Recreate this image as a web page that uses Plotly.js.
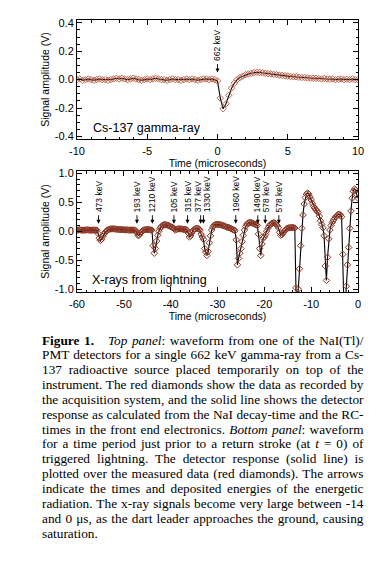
<!DOCTYPE html>
<html>
<head>
<meta charset="utf-8">
<script src="https://cdn.plot.ly/plotly-3.0.1.min.js"></script>
<style>html,body{margin:0;padding:0;background:#fff;}#chart{width:384px;height:576px;}</style>
</head>
<body>
<div id="chart"></div>
<script>
// ---------- DATA ----------
// Top panel: Cs-137 gamma-ray, sampled every 0.2 µs from -10 µs
var gammaStart = -10, gammaStep = 0.2;
var gammaSignal = [
  0.00, 0.005, -0.005, 0.00, 0.005, 0.00, -0.005, 0.00, 0.005, 0.00,
  0.00, -0.005, 0.00, 0.005, 0.01, 0.005, 0.01, 0.005, 0.00, 0.005,
  0.01, 0.005, 0.00, -0.005, 0.00, 0.005, 0.00, 0.005, 0.01, 0.005,
  0.00, 0.00, -0.005, 0.00, 0.005, 0.00, 0.00, -0.005, 0.00, 0.005,
  0.00, 0.005, 0.00, -0.005, 0.00, 0.005, 0.005, 0.00, 0.005, 0.00,
  -0.01,
  -0.13, -0.205, -0.17, -0.11, -0.06, -0.025, 0.00, 0.015, 0.025, 0.035,
  0.04, 0.045, 0.05, 0.052, 0.05, 0.048, 0.045, 0.042, 0.04, 0.037,
  0.035, 0.032, 0.03, 0.027, 0.025, 0.022, 0.02, 0.02, 0.017, 0.015,
  0.015, 0.012, 0.01, 0.01, 0.01, 0.008, 0.005, 0.008, 0.005, 0.003,
  0.005, 0.00, 0.003, 0.005, 0.00, 0.003, 0.00, 0.005, 0.00, 0.00
];

// Bottom panel: X-rays from lightning, sampled every 0.25 µs from -60 µs
var xrayStart = -60, xrayStep = 0.25;
var xraySignal = [
  0.02, 0.02, 0.025, 0.02, 0.02, 0.015, 0.02, 0.02,
  0.02, 0.025, 0.02, 0.02, 0.015, 0.02, 0.02, 0.02,
  0.02, 0.015, -0.04, -0.12, -0.16, -0.14, -0.09, -0.05,
  -0.02, 0.00, 0.02, 0.03, 0.035, 0.04, 0.04, 0.04,
  0.04, 0.035, 0.035, 0.03, 0.03, 0.03, 0.025, 0.025,
  0.025, 0.025, 0.02, 0.025, 0.02, 0.02, 0.02, 0.02,
  0.02, 0.02, 0.015, -0.02, -0.07, -0.07, -0.04, -0.01,
  0.01, 0.02, 0.025, 0.03, 0.03, 0.025, 0.025, 0.02,
  0.02, -0.25, -0.38, -0.3, -0.17, -0.07, 0.00, 0.05,
  0.08, 0.10, 0.11, 0.115, 0.11, 0.105, 0.10, 0.09,
  0.08, 0.07, 0.06, 0.04, 0.02, 0.03, 0.04, 0.04,
  0.04, 0.04, 0.035, 0.03, 0.03, 0.03, 0.02, -0.03,
  -0.10, -0.08, -0.03, 0.01, 0.03, 0.04, 0.05, 0.05,
  0.04, 0.02, -0.05, -0.10, -0.14, -0.30, -0.36, -0.42,
  -0.35, -0.20, -0.08, 0.02, 0.07, 0.10, 0.115, 0.12,
  0.12, 0.12, 0.115, 0.11, 0.10, 0.095, 0.09, 0.08,
  0.07, 0.065, 0.06, 0.05, 0.04, 0.03, 0.02, 0.01,
  -0.15, -0.58, -0.47, -0.38, -0.30, -0.18, -0.07, 0.02,
  0.08, 0.12, 0.14, 0.15, 0.15, 0.145, 0.14, 0.13,
  0.12, 0.11, 0.10, -0.05, -0.30, -0.42, -0.22, -0.12,
  -0.10, -0.06, 0.00, 0.05, 0.09, 0.11, 0.13, 0.14,
  0.15, 0.14, 0.12, 0.10, 0.06, -0.02, -0.07, -0.06,
  -0.03, 0.00, 0.02, 0.04, 0.05, 0.06, 0.06, 0.065,
  0.065, 0.06, 0.055, -0.98, -1.30, -1.00, -0.65, -0.25,
  0.05, 0.28, 0.47, 0.58, 0.64, 0.66, 0.64, 0.59,
  0.54, 0.48, 0.43, 0.40, 0.37, 0.35, 0.32, 0.26,
  0.18, 0.12, 0.06, -0.08, -0.60, -0.85, -0.45, -0.13,
  0.02, 0.10, 0.15, 0.19, 0.22, 0.25, 0.27, 0.29,
  0.29, 0.28, 0.25, -0.40, -1.30, -1.30, -0.95, -0.58,
  -0.28, 0.05, 0.35, 0.57, 0.69, 0.73, 0.71, 0.63,
  0.57
];

// Arrow markers (time in µs, deposited energy label)
var gammaArrowTimes = [0];
var gammaArrowLabels = ['662 keV'];
var xrayArrowTimes = [-55.4, -47.2, -43.9, -39.3, -36.4, -33.6, -33.0, -26.1, -21.4, -19.8, -16.9];
var xrayArrowLabels = ['473 keV', '193 keV', '1210 keV', '105 keV', '315 keV', '377 keV', '1330 keV', '1960 keV', '1490 keV', '578 keV', '578 keV'];

// Tick labels
var gammaXTicks = [-10, -5, 0, 5, 10];
var gammaXLabels = ['-10', '-5', '0', '5', '10'];
var gammaYTicks = [-0.4, -0.2, 0, 0.2, 0.4];
var gammaYLabels = ['-0.4', '-0.2', '0.0', '0.2', '0.4'];
var xrayXTicks = [-60, -50, -40, -30, -20, -10, 0];
var xrayXLabels = ['-60', '-50', '-40', '-30', '-20', '-10', '0'];
var xrayYTicks = [-1, -0.5, 0, 0.5, 1];
var xrayYLabels = ['-1.0', '-0.5', '0.0', '0.5', '1.0'];

// Caption lines
var captionLines = [
  '<b>Figure 1.</b>\u00a0\u00a0\u00a0<i>Top panel</i>: waveform from one of the NaI(Tl)/',
  'PMT detectors for a single 662 keV gamma-ray from a Cs-',
  '137 radioactive source placed temporarily on top of the',
  'instrument. The red diamonds show the data as recorded by',
  'the acquisition system, and the solid line shows the detector',
  'response as calculated from the NaI decay-time and the RC-',
  'times in the front end electronics. <i>Bottom panel</i>: waveform',
  'for a time period just prior to a return stroke (at <i>t</i> = 0) of',
  'triggered lightning. The detector response (solid line) is',
  'plotted over the measured data (red diamonds). The arrows',
  'indicate the times and deposited energies of the energetic',
  'radiation. The x-ray signals become very large between -14',
  'and 0 \u03bcs, as the dart leader approaches the ground, causing',
  'saturation.'
];

// ---------- STYLE ----------
var W = 384, H = 576;
var SANS = 'Liberation Sans, Arial, Helvetica, sans-serif';
var SERIF = 'Liberation Serif, Times New Roman, serif';
var xDom = [77 / W, 358 / W];
function py(pix) { return 1 - pix / H; }

var measureCtx = document.createElement('canvas').getContext('2d');
function textWidth(str, size) {
  measureCtx.font = size + 'px "Liberation Sans", Arial, sans-serif';
  return measureCtx.measureText(str).width;
}

function axisBase(extra) {
  var a = {
    showline: true, linecolor: '#000', linewidth: 1, mirror: 'ticks',
    ticks: 'inside', ticklen: 5, tickwidth: 1, tickcolor: '#000',
    showgrid: false, zeroline: false, automargin: false,
    tickfont: {family: SANS, size: 11, color: '#000'},
    tickmode: 'array'
  };
  for (var k in extra) a[k] = extra[k];
  return a;
}

var traces = [
  {
    type: 'scatter', mode: 'lines+markers', xaxis: 'x', yaxis: 'y',
    x0: gammaStart, dx: gammaStep, y: gammaSignal,
    line: {color: '#000', width: 1.1},
    marker: {symbol: 'diamond-open', size: 5, color: '#b8573d', line: {width: 0.9}},
    hoverinfo: 'skip', showlegend: false
  },
  {
    type: 'scatter', mode: 'lines+markers', xaxis: 'x2', yaxis: 'y2',
    x0: xrayStart, dx: xrayStep, y: xraySignal,
    line: {color: '#000', width: 1.1},
    marker: {symbol: 'diamond-open', size: 5, color: '#8a3320', line: {width: 1}},
    hoverinfo: 'skip', showlegend: false
  }
];

var annotations = [];
// panel labels
annotations.push({xref: 'paper', yref: 'paper', x: 91 / W, y: py(128), xanchor: 'left', yanchor: 'middle',
  text: 'Cs-137 gamma-ray', showarrow: false, font: {family: SANS, size: 12.5, color: '#000'}});
annotations.push({xref: 'paper', yref: 'paper', x: 90 / W, y: py(280), xanchor: 'left', yanchor: 'middle',
  text: 'X-rays from lightning', showarrow: false, font: {family: SANS, size: 12.5, color: '#000'}});

var ARROW_LEN = 10, LABEL_SIZE = 8.5;
// small horizontal nudges so that crowded labels do not overlap
var xrayLabelNudge = [0, 0, 0, 0, 0, -3, 3.5, 0, -0.5, 0.5, 0];
function addArrow(xref, yref, t, tip, label, nudge) {
  var half = textWidth(label, LABEL_SIZE) / 2;
  annotations.push({
    xref: xref, yref: yref, x: t, y: tip, text: '',
    showarrow: true, ax: 0, ay: -ARROW_LEN,
    arrowhead: 2, arrowsize: 0.9, arrowwidth: 0.9, arrowcolor: '#000',
    standoff: 0, startstandoff: 0
  });
  annotations.push({
    xref: xref, yref: yref, x: t, y: tip, text: label, textangle: -90,
    showarrow: false, xanchor: 'center', yanchor: 'middle',
    yshift: ARROW_LEN + half + 1.5, xshift: nudge || 0, borderpad: 0,
    font: {family: SANS, size: LABEL_SIZE, color: '#000'}
  });
}
for (var i = 0; i < gammaArrowTimes.length; i++) {
  addArrow('x', 'y', gammaArrowTimes[i], 0.05, gammaArrowLabels[i], 0);
}
for (var j = 0; j < xrayArrowTimes.length; j++) {
  addArrow('x2', 'y2', xrayArrowTimes[j], 0.13, xrayArrowLabels[j], xrayLabelNudge[j]);
}

// caption
var capTop = 340, capStep = 14.85, capIndex0 = annotations.length;
var CAP_LEFT = 40, CAP_WIDTH = 321.5;
for (var c = 0; c < captionLines.length; c++) {
  annotations.push({
    xref: 'paper', yref: 'paper', x: CAP_LEFT / W, y: py(capTop + c * capStep),
    xanchor: 'left', yanchor: 'middle', align: 'left', showarrow: false,
    text: captionLines[c], font: {family: SERIF, size: 13.3, color: '#000'}
  });
}

var layout = {
  width: W, height: H,
  margin: {l: 0, r: 0, t: 0, b: 0},
  paper_bgcolor: '#fff', plot_bgcolor: '#fff',
  font: {family: SANS, color: '#000'},
  showlegend: false,
  xaxis: axisBase({
    domain: xDom, anchor: 'y', range: [-10, 10],
    tickvals: gammaXTicks, ticktext: gammaXLabels, ticklabelstandoff: 2,
    minor: {ticks: 'inside', ticklen: 2.5, tickcolor: '#000', dtick: 1, tick0: 0, showgrid: false},
    title: {text: 'Time (microseconds)', font: {family: SANS, size: 10.5, color: '#000'}, standoff: 2}
  }),
  yaxis: axisBase({
    domain: [py(139), py(20)], anchor: 'x', range: [-0.418, 0.42],
    tickvals: gammaYTicks, ticktext: gammaYLabels,
    minor: {ticks: 'inside', ticklen: 2.5, tickcolor: '#000', dtick: 0.05, tick0: 0, showgrid: false},
    title: {text: 'Signal amplitude (V)', font: {family: SANS, size: 10.5, color: '#000'}, standoff: 3}
  }),
  xaxis2: axisBase({
    domain: xDom, anchor: 'y2', range: [-60, 0],
    tickvals: xrayXTicks, ticktext: xrayXLabels, ticklabelstandoff: 2,
    minor: {ticks: 'inside', ticklen: 2.5, tickcolor: '#000', dtick: 2, tick0: 0, showgrid: false},
    title: {text: 'Time (microseconds)', font: {family: SANS, size: 10.5, color: '#000'}, standoff: 1}
  }),
  yaxis2: axisBase({
    domain: [py(292), py(171)], anchor: 'x2', range: [-1.05, 1.04],
    tickvals: xrayYTicks, ticktext: xrayYLabels,
    minor: {ticks: 'inside', ticklen: 2.5, tickcolor: '#000', dtick: 0.1, tick0: 0, showgrid: false},
    title: {text: 'Signal amplitude (V)', font: {family: SANS, size: 10.5, color: '#000'}, standoff: 3}
  }),
  annotations: annotations
};

// Justify the caption lines (except the last) the way the printed page does
function justifyCaption(gd) {
  for (var c = 0; c < captionLines.length - 1; c++) {
    var g = gd.querySelector('.annotation[data-index="' + (capIndex0 + c) + '"] text.annotation-text');
    if (!g) continue;
    var len = g.getComputedTextLength();
    var spaces = (g.textContent.match(/[ \u00a0]/g) || []).length;
    if (spaces > 0 && len < CAP_WIDTH) {
      g.style.wordSpacing = ((CAP_WIDTH - len) / spaces) + 'px';
    }
  }
}

Plotly.newPlot('chart', traces, layout, {staticPlot: true, displayModeBar: false}).then(justifyCaption);
</script>
</body>
</html>
